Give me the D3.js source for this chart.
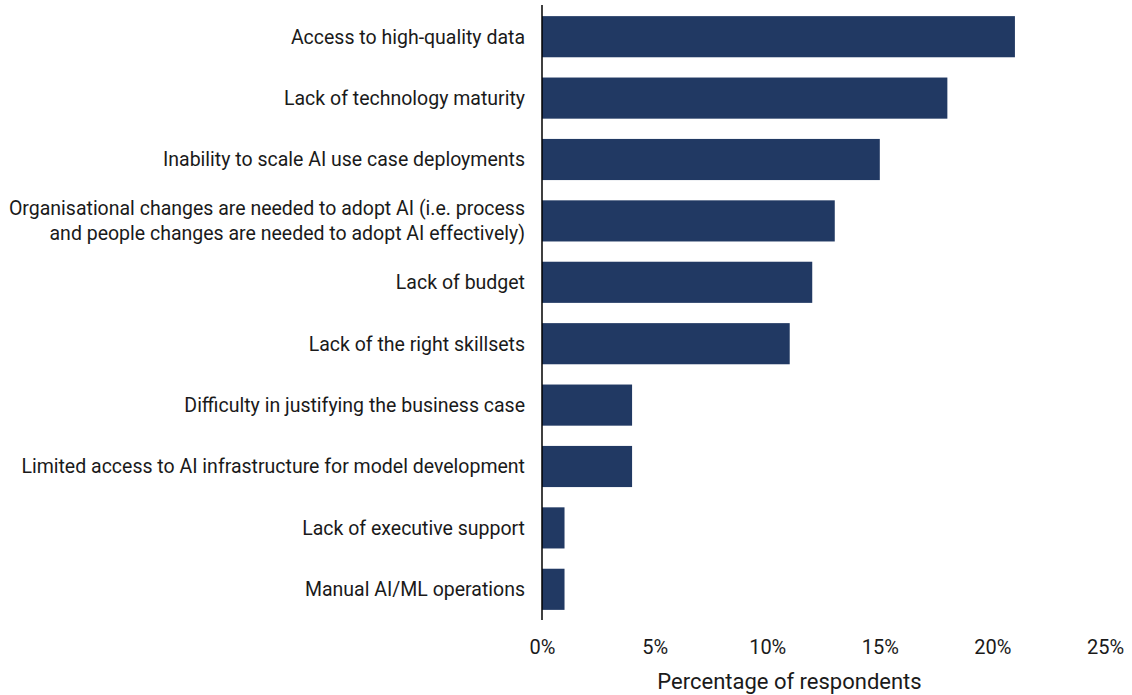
<!DOCTYPE html>
<html>
<head>
<meta charset="utf-8">
<script src="https://cdn.jsdelivr.net/npm/d3@7"></script>
<style>
  body { margin: 0; background: #fff; }
  text { font-family: Roboto, "Liberation Sans", sans-serif; fill: #1a1a1a; }
</style>
</head>
<body>
<div id="chart"></div>
<script>
let categories = [
    ["Access to high-quality data"],
    ["Lack of technology maturity"],
    ["Inability to scale AI use case deployments"],
    ["Organisational changes are needed to adopt AI (i.e. process", "and people changes are needed to adopt AI effectively)"],
    ["Lack of budget"],
    ["Lack of the right skillsets"],
    ["Difficulty in justifying the business case"],
    ["Limited access to AI infrastructure for model development"],
    ["Lack of executive support"],
    ["Manual AI/ML operations"]
];
let values = [21, 18, 15, 13, 12, 11, 4, 4, 1, 1];
let tick_values = [0, 5, 10, 15, 20, 25];
let axis_title = "Percentage of respondents";

let _default = {
    width: 1132,
    height: 695,
    left: 542,
    right: 1105,
    top: 6,
    bottom: 620,
    bar_fill: "#213963",
    font_size: 19.5
};

let svg = d3.select("div#chart")
    .append("svg")
    .attr("width", _default.width)
    .attr("height", _default.height);

let x = d3.scaleLinear().domain([0, 25]).range([_default.left, _default.right]);
let y = d3.scaleBand()
    .domain(d3.range(categories.length))
    .range([_default.top, _default.bottom])
    .paddingInner(0.33)
    .paddingOuter(0.165);

svg.selectAll("rect.bar").data(values).enter().append("rect")
    .attr("class", "bar")
    .attr("x", x(0))
    .attr("y", (d, i) => y(i))
    .attr("width", d => x(d) - x(0))
    .attr("height", y.bandwidth())
    .attr("fill", _default.bar_fill);

// category labels, right aligned against the axis
let labels = svg.selectAll("text.cat").data(categories).enter().append("text")
    .attr("class", "cat")
    .attr("text-anchor", "end")
    .attr("font-size", _default.font_size)
    .attr("transform", (d, i) => `translate(${_default.left - 17}, ${y(i) + y.bandwidth() / 2})`);
labels.each(function (lines) {
    let t = d3.select(this);
    lines.forEach((line, k) => {
        t.append("tspan")
            .attr("x", 0)
            .attr("y", (k - (lines.length - 1) / 2) * 25)
            .attr("dy", "0.35em")
            .text(line);
    });
});

// x axis: tick labels only
let xAxis = d3.axisBottom(x)
    .tickValues(tick_values)
    .tickFormat(d => d + "%")
    .tickSize(0)
    .tickPadding(0);
let gx = svg.append("g")
    .attr("transform", `translate(0, 640)`)
    .call(xAxis);
gx.select(".domain").remove();
gx.selectAll("text")
    .attr("font-size", 20)
    .attr("font-family", null)
    .attr("fill", "#1a1a1a");

// y axis line
svg.append("line")
    .attr("x1", x(0)).attr("x2", x(0))
    .attr("y1", _default.top - 1).attr("y2", _default.bottom)
    .attr("stroke", "#000")
    .attr("stroke-width", 1.5);

svg.append("text")
    .attr("x", (_default.left + _default.right) / 2 - 34)
    .attr("y", 689)
    .attr("text-anchor", "middle")
    .attr("font-size", 22)
    .text(axis_title);
</script>
</body>
</html>
